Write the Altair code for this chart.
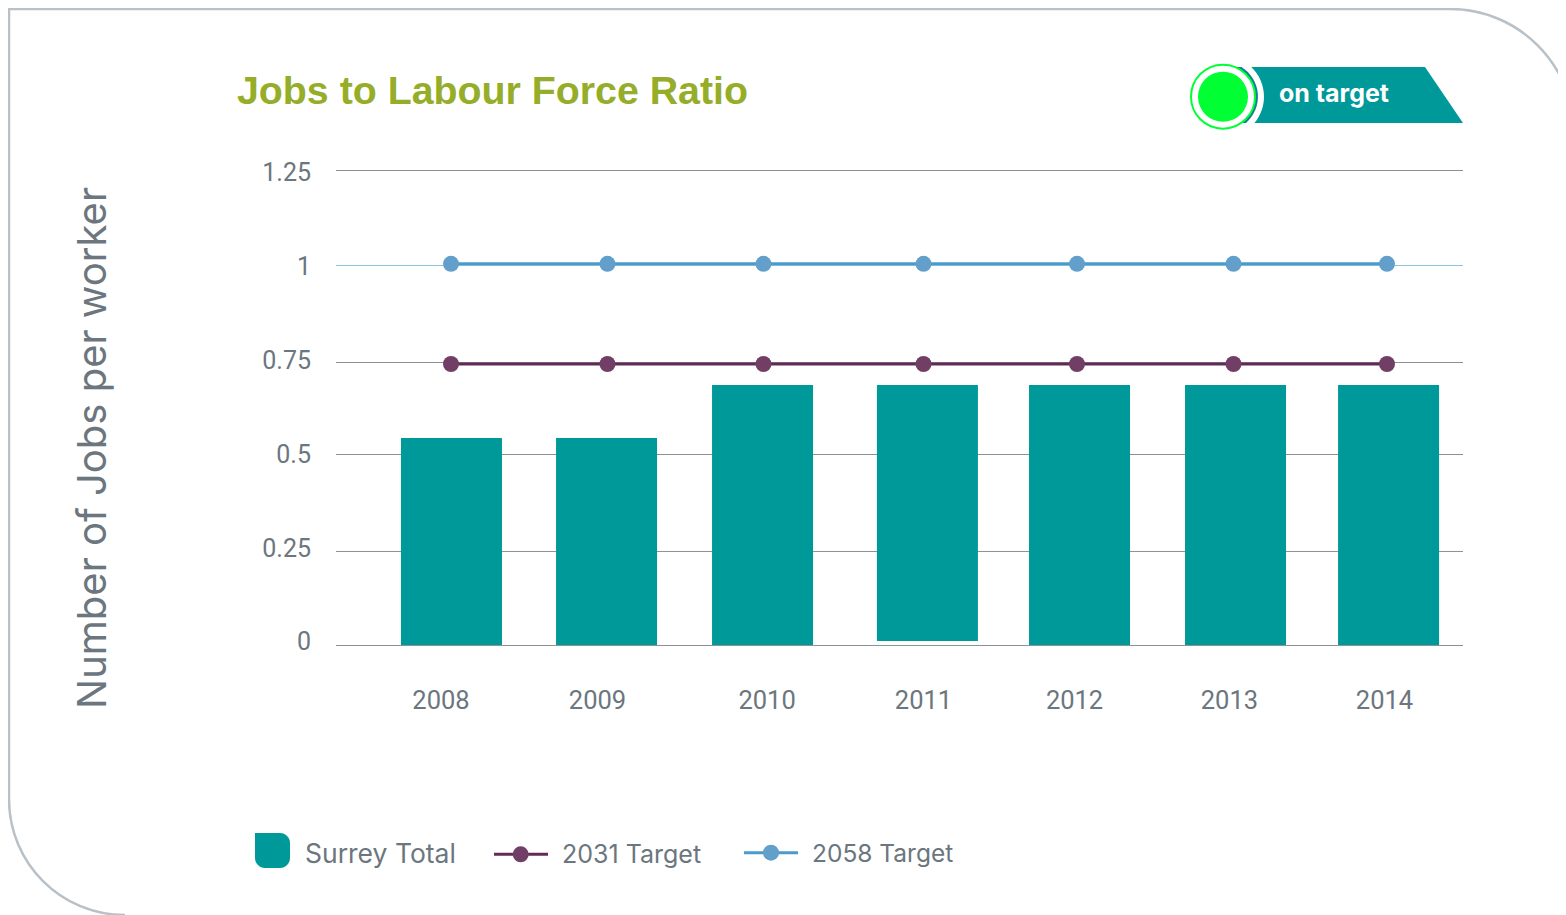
import altair as alt
import pandas as pd

years = ["2008", "2009", "2010", "2011", "2012", "2013", "2014"]
bar_pos = [2008.003, 2008.997, 2009.997, 2011.054, 2012.029, 2013.029, 2014.010]
bar_base = [0, 0, 0, 0.0105, 0, 0, 0]
surrey_total = [0.545, 0.545, 0.684, 0.684, 0.684, 0.684, 0.684]
dot_pos = [2008.0, 2009.003, 2010.003, 2011.029, 2012.013, 2013.016, 2014.0]
target_2031 = [0.7395] * 7
target_2058 = [1.003] * 7
year_label_pos = [2007.936, 2008.939, 2010.026, 2011.029, 2011.997, 2012.990, 2013.984]
grid_values = [-0.0013, 0.2461, 0.5013, 0.7434, 1.2487]
grid_one_value = [0.9987]
y_labels = ["0", "0.25", "0.5", "0.75", "1", "1.25"]
y_label_pos = [0.0079, 0.2524, 0.5, 0.7474, 0.9944, 1.2424]

TEAL = "#009999"
GREY = "#6b767e"
PURPLE_LINE = "#622a58"
PURPLE_DOT = "#713e66"
BLUE_LINE = "#4a9bca"
BLUE_DOT = "#629fcb"
FONT = "Roboto"
WIDE = "Inter"

X = alt.Scale(domain=[2008, 2014], range=[443, 1379], padding=0)
Y = alt.Scale(domain=[0, 1.25], range=[637, 162], padding=0)
one = alt.Data(values=[{}])


def shape(path, **kw):
    # custom symbol drawn in page pixels: size 4 gives a unit scale
    return alt.Chart(one).mark_point(shape=path, size=4, opacity=1, **kw).encode(
        x=alt.value(-8), y=alt.value(-8))


def label(text, x, y, size=25, color=GREY, align="left", font=WIDE, **kw):
    return alt.Chart(one).mark_text(text=text, fontSize=size, color=color, align=align,
                                    baseline="middle", font=font, **kw).encode(
        x=alt.value(x - 8), y=alt.value(y - 8))


def hrule(x1, x2, y, color, width):
    return alt.Chart(one).mark_rule(color=color, strokeWidth=width).encode(
        x=alt.value(x1 - 8), x2=alt.value(x2 - 8), y=alt.value(y - 8))


def disc(x, y, r, color, **kw):
    # a Vega circle of size s has radius sqrt(s) / 2
    return alt.Chart(one).mark_circle(color=color, size=4 * r * r, opacity=1, **kw).encode(
        x=alt.value(x - 8), y=alt.value(y - 8))


frame = shape("M125,915 A116,116 0 0 1 9,799 L9,9 L1450,9 A124,124 0 0 1 1574,133",
              filled=False, stroke="#b8c0c8", strokeWidth=2.5)

grid = alt.Chart(pd.DataFrame({"v": grid_values})).mark_rule(color="#8a9298", strokeWidth=1).encode(
    x=alt.value(328), x2=alt.value(1455), y=alt.Y("v:Q", scale=Y, axis=None))
grid_one = alt.Chart(pd.DataFrame({"v": grid_one_value})).mark_rule(color="#8cc4df", strokeWidth=1).encode(
    x=alt.value(328), x2=alt.value(1455), y=alt.Y("v:Q", scale=Y, axis=None))

bars_df = pd.DataFrame({"p": bar_pos, "base": bar_base, "v": surrey_total})
bars = alt.Chart(bars_df).mark_bar(color=TEAL, size=101, opacity=1).encode(
    x=alt.X("p:Q", scale=X, axis=None),
    y=alt.Y("v:Q", scale=Y, axis=None),
    y2="base:Q")

df31 = pd.DataFrame({"p": dot_pos, "v": target_2031})
df58 = pd.DataFrame({"p": dot_pos, "v": target_2058})


def series(df, line_color, dot_color):
    enc = dict(x=alt.X("p:Q", scale=X, axis=None), y=alt.Y("v:Q", scale=Y, axis=None))
    return (alt.Chart(df).mark_line(color=line_color, strokeWidth=3).encode(**enc)
            + alt.Chart(df).mark_circle(color=dot_color, size=256, opacity=1).encode(**enc))


year_df = pd.DataFrame({"p": year_label_pos, "t": years})
year_text = alt.Chart(year_df).mark_text(fontSize=25.5, color=GREY, font=FONT, baseline="middle").encode(
    x=alt.X("p:Q", scale=X, axis=None), y=alt.value(692.5), text="t:N")

ylab_df = pd.DataFrame({"v": y_label_pos, "t": y_labels})
ylab_text = alt.Chart(ylab_df).mark_text(fontSize=25, color=GREY, font=FONT, baseline="middle",
                                         align="right").encode(
    x=alt.value(303), y=alt.Y("v:Q", scale=Y, axis=None), text="t:N")

title = label("Jobs to Labour Force Ratio", 237, 92, size=39.3, color="#95ad28",
              font="Liberation Sans", fontWeight="bold")
ytitle = label("Number of Jobs per worker", 94, 448, size=40, align="center", angle=270)

badge = alt.layer(
    shape("M1232,67 L1241.5,67 A35,35 0 0 1 1246,123 L1235,123 Z", filled=True, fill="#0f7f9a", strokeWidth=0),
    shape("M1251.3,67 L1425,67 L1463,123 L1254.4,123 A41,41 0 0 0 1251.3,67 Z", filled=True, fill=TEAL, strokeWidth=0),
    disc(1223, 96.7, 32, "#ffffff", stroke="#00ff33", strokeWidth=2),
    disc(1223, 96.7, 25, "#00ff33"),
    label("on target", 1279, 94, size=25, color="#ffffff", font="Inter", fontWeight="bold"),
)

legend = alt.layer(
    shape("M255,833 L280,833 A10,10 0 0 1 290,843 L290,858 A10,10 0 0 1 280,868 L265,868 A10,10 0 0 1 255,858 Z",
          filled=True, fill=TEAL, strokeWidth=0),
    label("Surrey Total", 305, 855, size=26.5),
    hrule(494, 548, 854.3, PURPLE_LINE, 3),
    disc(520.7, 854.3, 8, PURPLE_DOT),
    label("2031 Target", 562, 855),
    hrule(744, 798, 852.7, BLUE_LINE, 3),
    disc(771, 852.7, 8, BLUE_DOT),
    label("2058 Target", 812, 855, size=24.5),
)

chart = alt.layer(
    frame, grid, grid_one, bars, series(df31, PURPLE_LINE, PURPLE_DOT), series(df58, BLUE_LINE, BLUE_DOT),
    year_text, ylab_text, title, ytitle, badge, legend,
).properties(width=1550, height=907, padding=0, autosize="none", background="#ffffff"
).configure_view(stroke=None)

chart.save("out.html", embed_options={"renderer": "svg", "actions": False})
